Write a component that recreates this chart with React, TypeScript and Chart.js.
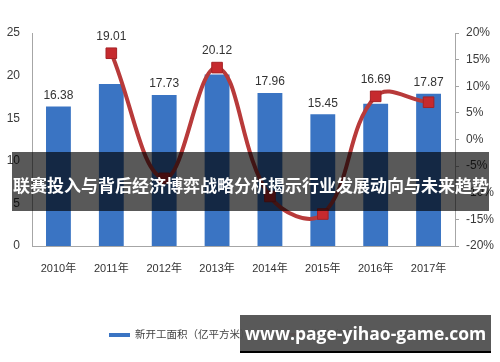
import React, { useEffect, useRef } from "react";
import { Chart, registerables } from "chart.js";

Chart.register(...registerables);

const categories = ["2010年", "2011年", "2012年", "2013年", "2014年", "2015年", "2016年", "2017年"];
const areaValues = [16.38, 19.01, 17.73, 20.12, 17.96, 15.45, 16.69, 17.87];
const growthValues = [null, 16.2, -7.3, 13.5, -10.7, -14.0, 8.1, 7.0];
const areaLabel = "新开工面积（亿平方米）";
const growthLabel = "增速（%）";
const bannerText = "联赛投入与背后经济博弈战略分析揭示行业发展动向与未来趋势";
const siteText = "www.page-yihao-game.com";

const BAR_COLOR = "#3a74c3";
const LINE_COLOR = "#b83a3a";
const NUM_FONT = "'Liberation Sans', 'Noto Sans CJK SC', sans-serif";

const barLabelPlugin = {
  id: "barLabels",
  afterDatasetsDraw(chart: any) {
    const ctx = chart.ctx;
    const barMeta = chart.getDatasetMeta(1);
    const lineMeta = chart.getDatasetMeta(0);
    ctx.save();
    ctx.font = `12px ${NUM_FONT}`;
    ctx.fillStyle = "#333";
    ctx.textAlign = "center";
    ctx.textBaseline = "middle";
    barMeta.data.forEach((bar: any, i: number) => {
      let top = bar.y;
      const pt = lineMeta.data[i];
      if (growthValues[i] !== null && pt && !isNaN(pt.y)) {
        top = Math.min(top, pt.y - 6);
      }
      ctx.fillText(areaValues[i].toFixed(2), bar.x, top - 11);
    });
    ctx.restore();
  },
};

export default function App() {
  const ref = useRef<HTMLCanvasElement>(null);

  useEffect(() => {
    if (!ref.current) return;
    const chart = new Chart(ref.current, {
      type: "bar",
      data: {
        labels: categories,
        datasets: [
          {
            type: "line",
            label: growthLabel,
            data: growthValues as any,
            yAxisID: "y1",
            borderColor: LINE_COLOR,
            borderWidth: 4,
            tension: 0.4,
            pointStyle: "rect",
            pointRadius: 7.5,
            pointBackgroundColor: "#c62a2e",
            pointBorderColor: "#a52226",
            pointBorderWidth: 1,
            order: 0,
          } as any,
          {
            type: "bar",
            label: areaLabel,
            data: areaValues,
            yAxisID: "y",
            backgroundColor: BAR_COLOR,
            barPercentage: 0.47,
            categoryPercentage: 1,
            order: 1,
          },
        ],
      },
      options: {
        responsive: false,
        animation: false,
        layout: { padding: { top: 33, left: 0, right: 0, bottom: 0 } },
        plugins: { legend: { display: false }, tooltip: { enabled: false } },
        scales: {
          x: {
            grid: { display: false, drawTicks: false },
            border: { display: true, color: "#a6a6a6", width: 1 },
            ticks: { color: "#333", font: { size: 11, family: NUM_FONT }, padding: 16, maxRotation: 0 },
            afterFit: (s: any) => { s.height = 116; },
          },
          y: {
            position: "left",
            min: 0,
            max: 25,
            grid: { display: false, drawTicks: false },
            border: { display: true, color: "#a6a6a6", width: 1 },
            ticks: { stepSize: 5, color: "#3a3a3a", font: { size: 12, family: NUM_FONT }, padding: 12 },
            afterFit: (s: any) => { s.width = 32; },
          },
          y1: {
            position: "right",
            min: -20,
            max: 20,
            grid: { display: true, drawOnChartArea: false, drawTicks: true, tickLength: 4, color: "#a6a6a6" },
            border: { display: true, color: "#a6a6a6", width: 1 },
            ticks: { stepSize: 5, color: "#3a3a3a", font: { size: 12, family: NUM_FONT }, padding: 7, callback: (v: any) => v + "%" },
            afterFit: (s: any) => { s.width = 45; },
          },
        },
      },
      plugins: [barLabelPlugin],
    });
    return () => chart.destroy();
  }, []);

  return (
    <div style={{ position: "fixed", left: 0, top: 0, width: 500, height: 362, background: "#fff", overflow: "hidden" }}>
      <canvas ref={ref} width={500} height={362} style={{ position: "absolute", left: 0, top: 0 }} />
      {/* legend */}
      <div style={{ position: "absolute", left: 109, top: 333, width: 21, height: 4, background: BAR_COLOR }} />
      <div style={{ position: "absolute", left: 135, top: 327, fontSize: 10.5, lineHeight: "14px", color: "#444", fontFamily: "'Noto Sans CJK SC', sans-serif", whiteSpace: "nowrap" }}>{areaLabel}</div>
      <div style={{ position: "absolute", left: 283, top: 333, width: 20, height: 3, background: LINE_COLOR }} />
      <div style={{ position: "absolute", left: 307, top: 327, fontSize: 10.5, lineHeight: "14px", color: "#444", fontFamily: "'Noto Sans CJK SC', sans-serif", whiteSpace: "nowrap" }}>{growthLabel}</div>
      {/* title banner */}
      <div style={{ position: "absolute", left: 12, top: 152, width: 477, height: 59, background: "rgba(0,0,0,0.65)" }} />
      <div style={{ position: "absolute", left: 13, top: 174, fontSize: 17, lineHeight: "22px", fontWeight: 700, color: "#fff", fontFamily: "'Noto Sans CJK SC', sans-serif", whiteSpace: "nowrap" }}>{bannerText}</div>
      {/* site banner */}
      <div style={{ position: "absolute", left: 240, top: 315, width: 251, height: 36, background: "rgba(80,80,80,0.95)" }} />
      <div style={{ position: "absolute", left: 240, top: 351, width: 251, height: 2, background: "#000" }} />
      <div style={{ position: "absolute", left: 245, top: 321, fontSize: 17.5, lineHeight: "24px", fontWeight: 700, color: "#fff", fontFamily: "'Open Sans', sans-serif", whiteSpace: "nowrap" }}>{siteText}</div>
    </div>
  );
}
